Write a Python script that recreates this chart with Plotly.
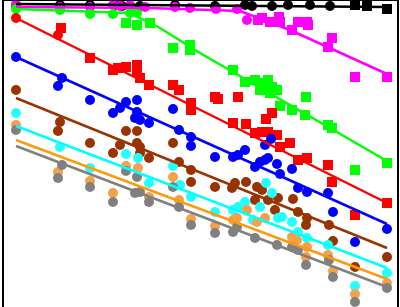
import plotly.graph_objects as go

# ---- data (x, y in chart units) ----
black_circ_x = [12, 56, 86, 111, 118, 136, 171, 211, 241, 248, 268, 284, 306, 326]
black_circ_y = [302, 302, 302, 302, 301, 301, 302, 301, 302, 301, 301, 302, 302, 301]
black_sq_x = [351, 363, 383]
black_sq_y = [302, 301, 298]
black_fit_x = [12, 383]
black_fit_y = [303, 300]

magenta_circ_x = [12, 56, 86, 109, 116, 126, 141, 171, 186, 212, 233, 243]
magenta_circ_y = [302, 300, 300, 302, 301, 302, 300, 300, 299, 298, 298, 287]
magenta_sq_x = [254, 258, 266, 275, 276, 288, 294, 303, 304, 324, 328, 351, 383]
magenta_sq_y = [287, 289, 285, 290, 285, 277, 285, 285, 282, 260, 269, 230, 230]
magenta_fit_x = [12, 146, 236, 286, 383]
magenta_fit_y = [300, 299, 296, 277, 233]

green_circ_x = [12, 56, 86, 109, 126, 133]
green_circ_y = [298, 297, 293, 293, 294, 294]
green_sq_x = [122, 133, 146, 169, 186, 186, 229, 241, 251, 258, 264, 268, 273, 256, 266, 302,
              276, 288, 301, 324, 328, 351, 383]
green_sq_y = [284, 282, 284, 259, 262, 257, 237, 225, 227, 224, 227, 220, 217, 217, 214, 210,
              201, 197, 192, 182, 179, 137, 144]
green_fit_x = [12, 126, 156, 196, 383]
green_fit_y = [298, 294, 279, 254, 146]

red_circ_x = [12, 54]
red_circ_y = [289, 272]
red_sq_x = [57, 86, 109, 114, 122, 133, 133, 136, 145, 169, 175, 187, 187, 211, 214, 234, 262,
            268, 229, 242, 251, 258, 264, 273, 276, 286, 294, 303, 324, 328, 351, 383]
red_sq_y = [279, 249, 237, 239, 240, 242, 235, 229, 222, 222, 217, 204, 197, 210, 208, 210, 188,
            194, 184, 183, 174, 175, 175, 172, 160, 164, 147, 149, 142, 125, 92, 104]
red_fit_x = [12, 383]
red_fit_y = [289, 104]

blue_x = [12, 58, 54, 86, 109, 116, 122, 133, 133, 136, 131, 145, 169, 175, 187, 187, 211, 229,
          234, 241, 251, 256, 261, 264, 273, 276, 288, 294, 303, 324, 329, 351, 383, 261, 267]
blue_y = [250, 229, 221, 207, 194, 199, 205, 207, 195, 187, 189, 184, 198, 177, 170, 161, 150, 150,
          152, 157, 140, 145, 147, 149, 143, 133, 138, 119, 115, 114, 95, 65, 78, 162, 168]
blue_fit_x = [12, 383]
blue_fit_y = [250, 83]

brown_x = [12, 56, 54, 86, 116, 122, 133, 133, 136, 169, 109, 136, 145, 175, 187, 187, 211, 228,
           231, 242, 253, 258, 251, 274, 289, 294, 303, 302, 325, 329, 351, 383, 264, 271]
brown_y = [217, 185, 176, 164, 162, 176, 176, 164, 160, 164, 154, 154, 149, 145, 137, 125, 120, 119,
           124, 125, 120, 117, 107, 109, 108, 95, 89, 82, 82, 66, 40, 50, 107, 97]
brown_fit_x = [12, 383]
brown_fit_y = [209, 59]

cyan_x = [12, 56, 86, 122, 134, 145, 169, 176, 187, 211, 229, 234, 241, 249, 256, 262, 268, 274,
          278, 288, 294, 303, 324, 351, 383]
cyan_y = [194, 160, 139, 153, 149, 124, 141, 122, 110, 95, 97, 100, 105, 87, 100, 124, 114, 89,
          90, 85, 75, 69, 62, 21, 34]
cyan_fit_x = [12, 383]
cyan_fit_y = [181, 39]

orange_x = [12, 54, 86, 109, 122, 134, 145, 169, 175, 187, 211, 229, 233, 243, 253, 261, 288, 293,
            303, 302, 324, 329, 351, 383]
orange_y = [182, 135, 126, 114, 141, 139, 110, 130, 107, 88, 81, 87, 89, 97, 85, 89, 70, 67,
            60, 50, 52, 36, 13, 24]
orange_fit_x = [12, 383]
orange_fit_y = [167, 28]

gray_x = [12, 58, 54, 86, 109, 122, 133, 131, 136, 145, 169, 175, 187, 211, 229, 233, 251, 273,
          288, 294, 302, 325, 329, 351, 383]
gray_y = [177, 142, 129, 120, 105, 136, 130, 114, 115, 105, 120, 100, 82, 74, 75, 80, 69, 62,
          60, 57, 42, 47, 30, 5, 19]
gray_fit_x = [12, 383]
gray_fit_y = [161, 20]

series = [
    ("black", "#000000", "#000000",
     [(black_circ_x, black_circ_y, "circle"), (black_sq_x, black_sq_y, "square")],
     black_fit_x, black_fit_y),
    ("magenta", "#FF00FF", "#FF00FF",
     [(magenta_circ_x, magenta_circ_y, "circle"), (magenta_sq_x, magenta_sq_y, "square")],
     magenta_fit_x, magenta_fit_y),
    ("green", "#00FF00", "#00FF00",
     [(green_circ_x, green_circ_y, "circle"), (green_sq_x, green_sq_y, "square")],
     green_fit_x, green_fit_y),
    ("red", "#FF0000", "#FF0000",
     [(red_circ_x, red_circ_y, "circle"), (red_sq_x, red_sq_y, "square")],
     red_fit_x, red_fit_y),
    ("blue", "#0000FF", "#0000FF", [(blue_x, blue_y, "circle")], blue_fit_x, blue_fit_y),
    ("brown", "#993300", "#993300", [(brown_x, brown_y, "circle")], brown_fit_x, brown_fit_y),
    ("cyan", "#22FFFF", "#00FFFF", [(cyan_x, cyan_y, "circle")], cyan_fit_x, cyan_fit_y),
    ("orange", "#F5A04A", "#FF9A10", [(orange_x, orange_y, "circle")], orange_fit_x, orange_fit_y),
    ("gray", "#808080", "#808080", [(gray_x, gray_y, "circle")], gray_fit_x, gray_fit_y),
]

fig = go.Figure()
for name, mcol, lcol, groups, fx, fy in series:
    for gx, gy, sym in groups:
        fig.add_trace(go.Scatter(
            x=gx, y=gy, mode="markers", name=name, showlegend=False, hoverinfo="skip",
            marker=dict(symbol=sym, size=10, color=mcol, line=dict(width=0)),
        ))
for name, mcol, lcol, groups, fx, fy in series:
    fig.add_trace(go.Scatter(
        x=fx, y=fy, mode="lines", name=name + " fit", showlegend=False, hoverinfo="skip",
        line=dict(color=lcol, width=2.5),
    ))

axis_common = dict(showgrid=False, zeroline=False, showticklabels=False, ticks="",
                   showline=True, mirror=True, linecolor="black", linewidth=2)
fig.update_xaxes(range=[0, 393], **axis_common)
fig.update_yaxes(range=[0, 306], **axis_common)
fig.update_layout(
    width=400, height=307,
    margin=dict(l=4, r=3, t=1, b=0),
    plot_bgcolor="white", paper_bgcolor="white",
)
fig.write_html("out.html",
               config={"displayModeBar": False, "staticPlot": True},
               post_script="document.body.style.margin='0';document.body.style.overflow='hidden';")
